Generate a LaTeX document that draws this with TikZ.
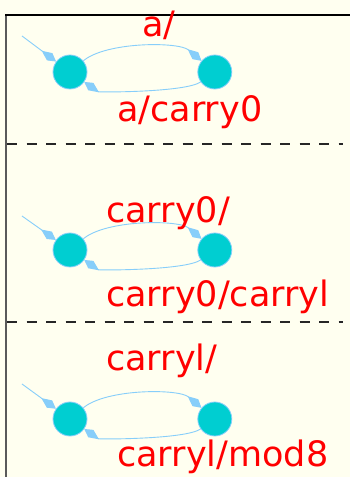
\documentclass[tikz,border=0pt]{standalone}
\usepackage{fontspec}
\newfontfamily\lblfont{DejaVu Sans}
\usetikzlibrary{arrows.meta, calc, positioning}
\definecolor{paper}{HTML}{FFFFF0}
\definecolor{edgeBlue}{HTML}{87CEFA}
\definecolor{stateFill}{HTML}{00CED1}
\definecolor{frameGray}{HTML}{5A5A5A}
\tikzset{
    state/.style={circle, draw=edgeBlue, fill=stateFill, line width=0.8pt, inner sep=0pt, minimum size=34pt},
    trans/.style={-{Kite[length=18pt, width=9pt, inset=10pt]}, draw=edgeBlue, line width=0.9pt},
    lbl/.style={text=red, font=\lblfont\fontsize{35}{40}\selectfont, inner sep=0pt, anchor=base west},
    sep/.style={draw=black!85, line width=1.5pt, dash pattern=on 10pt off 9.5pt},
}
\newcommand{\drawMachine}[3]{
    % 初始箭头
    \draw[trans] (#3) -- (#1);
    % 上弧: 左 -> 右
    \draw[trans] (#1) to[out=40, in=140, looseness=0.65] (#2);
    % 下弧: 右 -> 左
    \draw[trans] (#2) to[out=215, in=-35, looseness=0.4] (#1);
}

\begin{document}
\begin{tikzpicture}[x=1pt, y=1pt]
        \fill[paper] (0,0) rectangle (350,477);
        \useasboundingbox (0,0) rectangle (350,477);
        
        % frame and separators
        \draw[frameGray, line width=2pt] (6,0) -- (6,462);
        \draw[black, line width=1.7pt] (5,462) -- (350,462);
        \draw[sep] (7,333) -- (343,333);
        \draw[sep] (7,155) -- (343,155);
        
        \node[state] (p0) at (70,405) {};
        \node[state, right=110pt of p0] (p1) {};
        \node[state] (q0) at (70,227) {};
        \node[state, right=110pt of q0] (q1) {};
        \node[state] (r0) at (70,58) {};
        \node[state, right=110pt of r0] (r1) {};
        
        \coordinate (ps) at ($(p0)+(-48,36)$);
        \coordinate (qs) at ($(q0)+(-48,34)$);
        \coordinate (rs) at ($(r0)+(-48,35)$);
        
        \drawMachine{p0}{p1}{ps}
        \drawMachine{q0}{q1}{qs}
        \drawMachine{r0}{r1}{rs}
        
        \node[lbl] (pa) at (142,440) {a/};
        \node[lbl] (pb) at (117,355) {a/carry0};
        \node[lbl] (qa) at (106,254) {carry0/};
        \node[lbl] (qb) at (106,170) {carry0/carryl};
        \node[lbl] (ra) at (106,106) {carryl/};
        \node[lbl] (rb) at (117,10) {carryl/mod8};
        
    \end{tikzpicture}
\end{document}
